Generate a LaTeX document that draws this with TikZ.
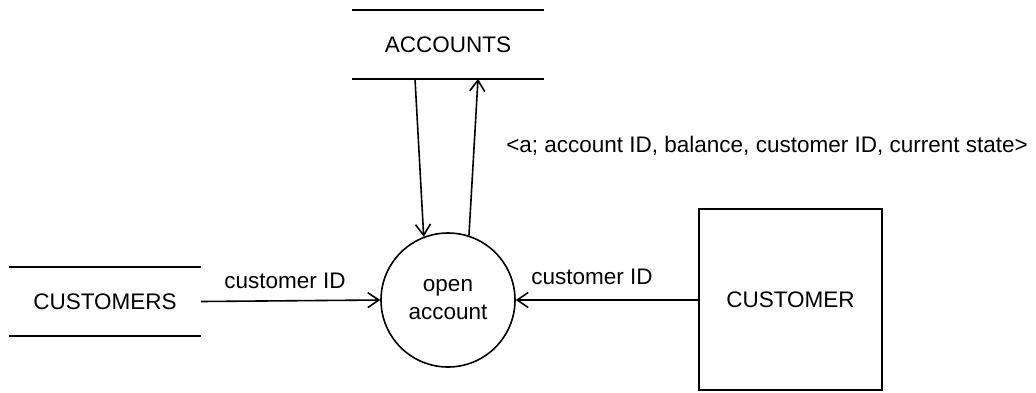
\documentclass[tikz,border=0pt]{standalone}
\usepackage{fontspec}
\setmainfont{Liberation Sans}
\usetikzlibrary{arrows.meta}
\begin{document}
\begin{tikzpicture}[x=1pt,y=-1pt,
  every node/.style={font=\fontsize{22.5}{27}\selectfont, inner sep=0pt},
  line width=1.6pt,
  store/.style={minimum width=190pt, minimum height=67pt},
  process/.style={circle, draw, minimum size=134pt, align=center},
  entity/.style={draw, minimum width=183pt, minimum height=181pt},
  flow/.style={-{Straight Barb[length=11pt,width=15pt,line width=1.6pt]}},
  lbl/.style={}]
  \useasboundingbox (0,0) rectangle (1036,392);

  % data stores drawn as open boxes (top and bottom rule only)
  \node[store] (acc) at (448,44.5) {ACCOUNTS};
  \draw (acc.north west) -- (acc.north east) (acc.south west) -- (acc.south east);
  \node[store] (cus) at (105,301.5) {CUSTOMERS};
  \draw (cus.north west) -- (cus.north east) (cus.south west) -- (cus.south east);

  % process and external entity
  \node[process] (opn) at (448,300) {open\\[1pt]account};
  \node[entity] (ent) at (790.5,299.5) {CUSTOMER};

  % flows
  \coordinate (accout) at ([xshift=-33pt]acc.south);
  \coordinate (accin) at ([xshift=30pt]acc.south);
  \draw[flow] (accout) -- (opn.111);
  \draw[flow] (opn.72) -- (accin);
  \draw[flow] (cus.east) -- (opn.west);
  \draw[flow] (ent.west |- opn.east) -- (opn.east);

  % flow labels
  \node[lbl] (l1) at (285,281) {customer ID};
  \node[lbl] (l2) at (592,277) {customer ID};
  \node[lbl] (l3) at (767,146) {<a; account ID, balance, customer ID, current state>};
\end{tikzpicture}
\end{document}
